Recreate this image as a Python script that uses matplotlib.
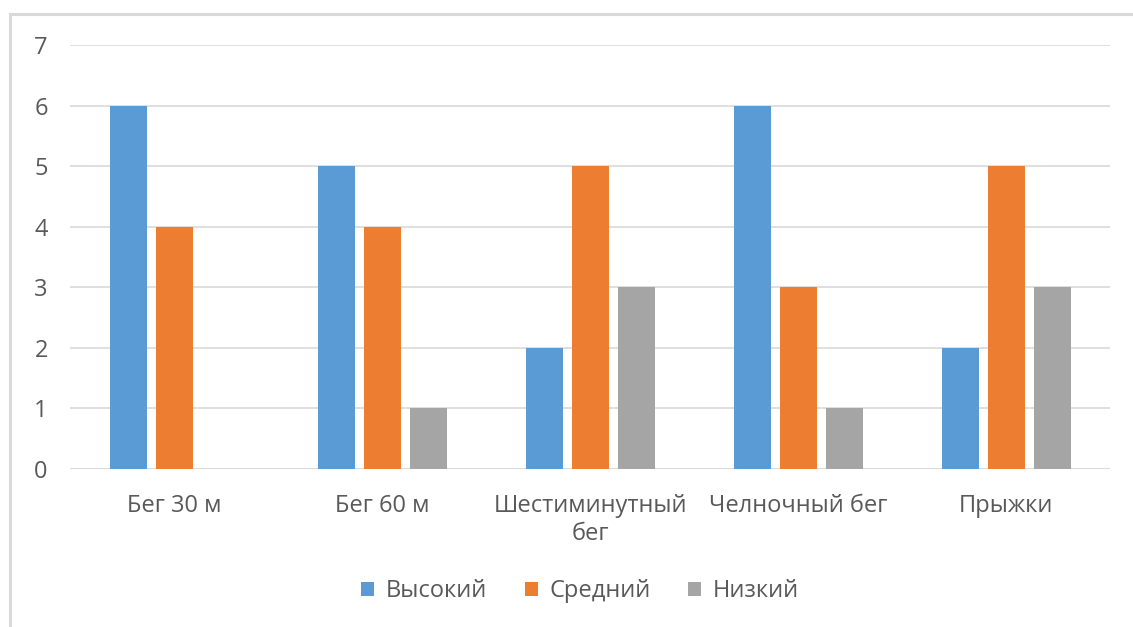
import numpy as np
import matplotlib.pyplot as plt
from matplotlib.lines import Line2D
from matplotlib.patches import Patch

categories = ["Бег 30 м", "Бег 60 м", "Шестиминутный\nбег", "Челночный бег", "Прыжки"]
series_names = ["Высокий", "Средний", "Низкий"]
high = [6, 5, 2, 6, 2]
medium = [4, 4, 5, 3, 5]
low = [0, 1, 3, 1, 3]
colors = ["#5B9BD5", "#ED7D31", "#A5A5A5"]

plt.rcParams['font.family'] = ['Open Sans', 'DejaVu Sans']

W, H = 1133, 627
fig = plt.figure(figsize=(W / 100, H / 100), dpi=100)
fig.patch.set_facecolor('white')

# outer chart border (left and top edges visible)
fig.add_artist(Line2D([10 / W, 10 / W], [0, 1 - 14 / H], color='#d9d9d9', lw=2.2))
fig.add_artist(Line2D([10 / W, 1], [1 - 14 / H, 1 - 14 / H], color='#d9d9d9', lw=2.2))

ax = fig.add_axes([70 / W, 1 - 469 / H, (1110 - 70) / W, (469 - 45) / H])

x = np.arange(len(categories))
width = 37 / 208
step = 46 / 208
for i, (vals, name) in enumerate(zip([high, medium, low], series_names)):
    ax.bar(x + (i - 1) * step, vals, width, color=colors[i], label=name, zorder=3)

ax.set_xlim(-0.5, len(categories) - 0.5)
ax.set_ylim(0, 7)
ax.set_yticks(range(0, 8))
ax.yaxis.grid(True, color='#d9d9d9', lw=1.2, zorder=0)
for s in ax.spines.values():
    s.set_visible(False)
ax.axhline(0, color='#d9d9d9', lw=1.2, zorder=2)
ax.tick_params(axis='both', length=0, labelsize=17, labelcolor='#595959')
ax.tick_params(axis='y', pad=16)
ax.tick_params(axis='x', pad=18)
ax.set_xticks(x)
ax.set_xticklabels(categories, linespacing=1.25, va='top')

handles = [Patch(facecolor=c, edgecolor='none') for c in colors]
fig.legend(handles, series_names, loc='center', bbox_to_anchor=(580 / W, 1 - 591 / H),
           ncol=3, frameon=False, fontsize=17, labelcolor='#595959',
           handlelength=0.55, handleheight=0.55, handletextpad=0.5, columnspacing=1.6)

fig.savefig('out.png', dpi=100, facecolor='white')
